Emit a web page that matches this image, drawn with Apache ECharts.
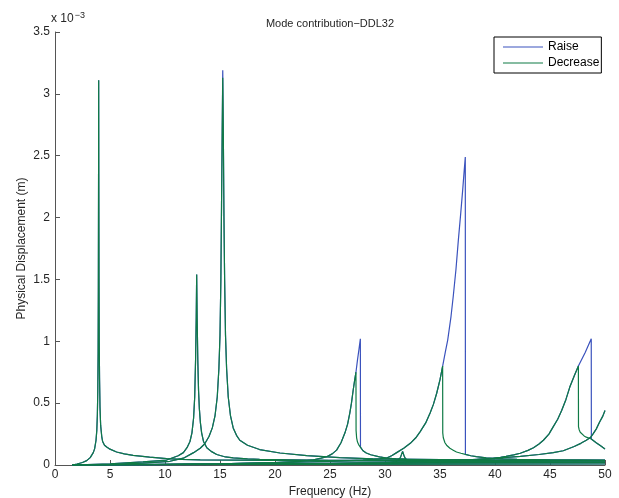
<!DOCTYPE html>
<html><head><meta charset="utf-8">
<script src="https://cdn.jsdelivr.net/npm/echarts@6/dist/echarts.min.js"></script>
<style>html,body{margin:0;padding:0;background:#fff}#c{width:619px;height:498px}</style>
</head><body><div id="c"></div>
<script>
// Axis ticks
const xTicks = [0, 5, 10, 15, 20, 25, 30, 35, 40, 45, 50];
const yTicks = [0, 0.5, 1, 1.5, 2, 2.5, 3, 3.5]; // ×10^-3 m

// Mode curves: [frequency (Hz), displacement (×10^-3 m)]
const mode1 = [[1.57,0],[2.0,0.008],[2.5,0.02],[2.88,0.035],[3.2,0.06],[3.48,0.1],[3.6,0.13],[3.73,0.2],[3.8,0.28],[3.85,0.4],[3.89,0.6],[3.92,0.9],[3.94,1.4],[3.96,2.3],[3.97,3.11],[3.98,2.4],[4.0,1.5],[4.02,1.0],[4.05,0.7],[4.09,0.47],[4.15,0.32],[4.25,0.23],[4.33,0.19],[4.5,0.16],[4.7,0.145],[5.0,0.128],[5.6,0.105],[6.3,0.09],[7.1,0.078],[8.6,0.064],[10.15,0.052],[11.5,0.045],[13.2,0.041],[20,0.038],[30,0.037],[40,0.036],[50,0.035]];
const mode2 = [[1.6,0],[5,0.01],[8,0.025],[10.15,0.04],[11.2,0.075],[11.67,0.1],[12.0,0.14],[12.27,0.19],[12.45,0.26],[12.6,0.38],[12.7,0.55],[12.78,0.85],[12.84,1.2],[12.88,1.54],[12.92,1.2],[12.98,0.85],[13.05,0.6],[13.12,0.46],[13.22,0.34],[13.33,0.26],[13.5,0.19],[13.8,0.14],[14.2,0.11],[14.7,0.085],[15.5,0.065],[16.2,0.057],[17.5,0.05],[18.6,0.046],[25,0.036],[35,0.03],[50,0.025]];
const mode3Left = [[1.6,0],[5,0.005],[8,0.015],[10.45,0.03],[11.67,0.055],[12.6,0.1],[13.2,0.135],[13.6,0.17],[14.0,0.23],[14.3,0.3],[14.55,0.4],[14.75,0.55],[14.9,0.78],[15.0,1.05],[15.08,1.5],[15.14,2.1],[15.2,2.7]];
const mode3RaisePeak = [[15.25,3.19]];
const mode3DecPeak = [[15.25,3.13]];
const mode3Right = [[15.3,2.7],[15.36,2.0],[15.42,1.5],[15.5,1.05],[15.6,0.78],[15.75,0.55],[15.95,0.4],[16.2,0.3],[16.5,0.24],[16.8,0.2],[17.5,0.16],[18.6,0.125],[20.45,0.097],[22.9,0.075],[25.9,0.06],[28.9,0.05],[35,0.043],[40,0.04],[50,0.038]];
const mode4Left = [[1.6,0],[10,0.005],[15,0.01],[20,0.02],[22.3,0.03],[23.5,0.042],[24.2,0.055],[24.7,0.067],[25.2,0.09],[25.6,0.12],[26.0,0.18],[26.36,0.26],[26.6,0.33],[26.8,0.42],[26.95,0.5],[27.1,0.6],[27.25,0.69]];
const mode4DecUpper = [[27.36,0.75]];
const mode4RaiseUpper = [[27.36,0.75],[27.5,0.85],[27.64,0.94],[27.76,1.02],[27.77,0.145]];
const mode4Lower = [[27.37,0.28],[27.42,0.22],[27.5,0.185],[27.6,0.165],[27.76,0.145],[28.0,0.115],[28.3,0.097],[28.7,0.083],[29.5,0.066],[30.15,0.056],[31,0.05],[32,0.046],[35,0.042],[40,0.04],[50,0.037]];
const mode5 = [[1.6,0],[15,0.005],[25,0.01],[30,0.015],[31,0.025],[31.4,0.06],[31.6,0.11],[31.75,0.07],[32,0.025],[35,0.02],[45,0.02],[50,0.02]];
const mode6Left = [[1.6,0],[10,0.005],[15,0.01],[20,0.02],[25,0.03],[28,0.04],[29.5,0.05],[30.15,0.056],[30.6,0.075],[31.06,0.1],[31.7,0.135],[32.3,0.175],[32.8,0.22],[33.2,0.27],[33.7,0.34],[34.1,0.42],[34.4,0.49],[34.7,0.58],[35.0,0.69]];
const mode6DecUpper = [[35.24,0.8]];
const mode6RaiseUpper = [[35.24,0.8],[35.5,0.92],[35.7,1.01],[36.0,1.2],[36.2,1.36],[36.45,1.58],[36.67,1.82],[36.87,2.02],[37.06,2.22],[37.2,2.38],[37.3,2.49],[37.31,0.086]];
const mode6Lower = [[35.25,0.26],[35.3,0.22],[35.45,0.18],[35.6,0.16],[35.9,0.135],[36.2,0.12],[36.5,0.105],[36.9,0.095],[37.3,0.086],[37.8,0.075],[38.3,0.067],[39.2,0.057],[39.8,0.054],[40.75,0.05],[42,0.046],[45,0.042],[50,0.038]];
const mode7Left = [[1.6,0],[15,0.005],[25,0.012],[30,0.02],[35,0.03],[38,0.042],[39.8,0.054],[40.5,0.062],[41,0.07],[41.7,0.082],[42.3,0.095],[43,0.118],[43.5,0.14],[44,0.17],[44.4,0.2],[44.9,0.25],[45.3,0.31],[45.7,0.37],[46.06,0.44],[46.45,0.53],[46.8,0.63],[47.2,0.72]];
const mode7DecUpper = [[47.58,0.8]];
const mode7RaiseUpper = [[47.58,0.8],[48.2,0.91],[48.75,1.02],[48.76,0.21]];
const mode7Lower = [[47.59,0.31],[47.65,0.285],[47.75,0.265],[47.9,0.25],[48.1,0.235],[48.3,0.225],[48.75,0.21],[49.2,0.18],[49.6,0.155],[50,0.13]];
const mode8 = [[1.6,0],[20,0.01],[30,0.02],[35,0.03],[39.2,0.05],[40.5,0.058],[42.3,0.07],[44,0.085],[45.3,0.1],[46.2,0.115],[47.2,0.15],[47.8,0.175],[48.3,0.2],[48.7,0.225],[48.9,0.25],[49.2,0.29],[49.5,0.345],[49.8,0.395],[50,0.44]];
const mode9 = [[1.6,0],[10,0.004],[20,0.008],[30,0.012],[40,0.016],[50,0.022]];
const mode10 = [[1.6,0.002],[25,0.004],[50,0.008]];

const raiseColor = '#3a52bd';
const decColor = '#0f7a45';

function after(arr, f) { return arr.filter(p => p[0] > f); }

const raiseCurves = [
  mode1, mode2,
  mode3Left.concat(mode3RaisePeak, mode3Right),
  mode4Left.concat(mode4RaiseUpper, after(mode4Lower, 27.77)),
  mode5,
  mode6Left.concat(mode6RaiseUpper, after(mode6Lower, 37.31)),
  mode7Left.concat(mode7RaiseUpper, after(mode7Lower, 48.76)),
  mode8, mode9, mode10
];
const decCurves = [
  mode1, mode2,
  mode3Left.concat(mode3DecPeak, mode3Right),
  mode4Left.concat(mode4DecUpper, mode4Lower),
  mode5,
  mode6Left.concat(mode6DecUpper, mode6Lower),
  mode7Left.concat(mode7DecUpper, mode7Lower),
  mode8, mode9, mode10
];

function mk(name, color, data, z) {
  return { name, type: 'line', data, symbol: 'none', showSymbol: false, z,
    lineStyle: { color, width: 1.2 }, itemStyle: { color }, emphasis: { disabled: true }, animation: false };
}
const series = [];
raiseCurves.forEach(d => series.push(mk('Raise', raiseColor, d, 2)));
decCurves.forEach(d => series.push(mk('Decrease', decColor, d, 3)));

const FONT = 'Liberation Sans, Arial, Helvetica, sans-serif';
const TXT = '#262626';
const chart = echarts.init(document.getElementById('c'), null, { renderer: 'canvas' });
chart.setOption({
  animation: false,
  backgroundColor: '#fff',
  textStyle: { fontFamily: FONT },
  grid: { left: 55, right: 14, top: 32, bottom: 33, containLabel: false, outerBoundsMode: 'none' },
  xAxis: {
    type: 'value', min: xTicks[0], max: xTicks[xTicks.length - 1], interval: 5,
    name: 'Frequency (Hz)', nameLocation: 'middle', nameGap: 20,
    nameTextStyle: { fontSize: 12, color: TXT, fontFamily: FONT },
    axisLine: { show: true, lineStyle: { color: '#555', width: 1 } },
    axisTick: { show: true, inside: true, length: 5, lineStyle: { color: '#555' } },
    axisLabel: { fontSize: 12, color: TXT, margin: 4, fontFamily: FONT },
    splitLine: { show: false }
  },
  yAxis: {
    type: 'value', min: yTicks[0], max: yTicks[yTicks.length - 1], interval: 0.5,
    name: 'Physical Displacement (m)', nameLocation: 'middle', nameGap: 27, nameRotate: 90,
    nameMoveOverlap: false,
    nameTextStyle: { fontSize: 12, color: TXT, fontFamily: FONT },
    axisLine: { show: true, lineStyle: { color: '#555', width: 1 } },
    axisTick: { show: true, inside: true, length: 5, lineStyle: { color: '#555' } },
    axisLabel: { fontSize: 12, color: TXT, margin: 5, fontFamily: FONT, formatter: v => String(v) },
    splitLine: { show: false }
  },
  legend: {
    data: ['Raise', 'Decrease'], left: 494, top: 37, orient: 'vertical',
    icon: 'rect', itemWidth: 40, itemHeight: 1, itemGap: 4,
    padding: [4, 2, 4, 9], borderColor: '#000', borderWidth: 1,
    textStyle: { fontSize: 12, color: '#000', fontFamily: FONT }
  },
  graphic: [
    { type: 'text', x: 330, y: 24, style: { text: 'Mode contribution−DDL32', textAlign: 'center', textVerticalAlign: 'middle', font: '11px ' + FONT, fill: TXT } },
    { type: 'text', x: 51, y: 19, style: { text: '{a|x 10}{b|−3}', textVerticalAlign: 'middle', font: '12px ' + FONT, fill: TXT,
        rich: { a: { fontSize: 12, fontFamily: FONT, fill: TXT }, b: { fontSize: 9, fontFamily: FONT, fill: TXT, verticalAlign: 'top', padding: [0,0,7,1] } } } }
  ],
  series
});
</script></body></html>
